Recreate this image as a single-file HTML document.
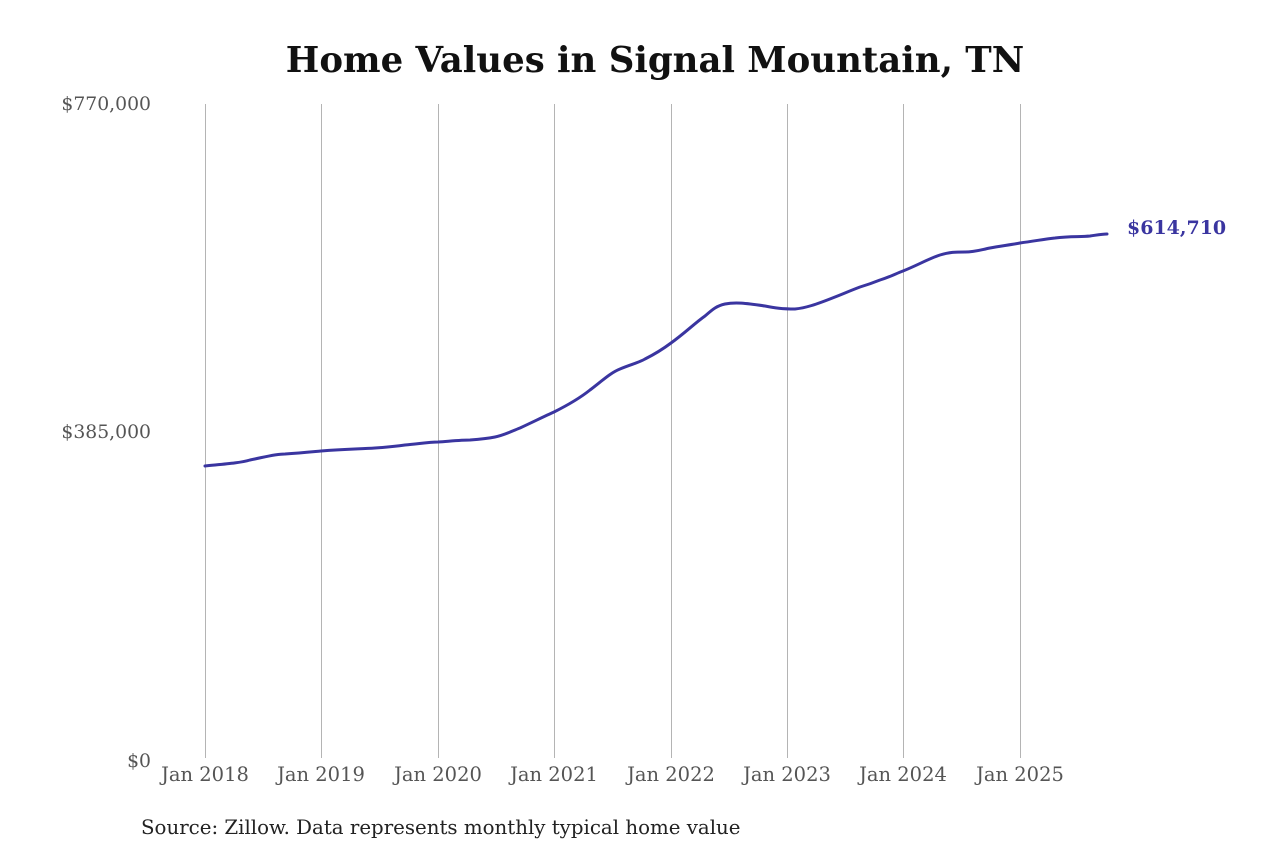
<!DOCTYPE html>
<html><head><meta charset="utf-8"><style>
html,body{margin:0;padding:0;background:#fff;}
</style></head><body>
<svg width="1280" height="853" xmlns="http://www.w3.org/2000/svg" font-family="'DejaVu Serif','Liberation Serif',serif">
<rect width="1280" height="853" fill="#fff"/>
<text x="655" y="72" text-anchor="middle" font-size="35.5" font-weight="bold" fill="#111">Home Values in Signal Mountain, TN</text>
<g stroke="#b4b4b4" stroke-width="1">
<line x1="205.5" y1="104" x2="205.5" y2="758"/>
<line x1="321.5" y1="104" x2="321.5" y2="758"/>
<line x1="438.5" y1="104" x2="438.5" y2="758"/>
<line x1="554.5" y1="104" x2="554.5" y2="758"/>
<line x1="671.5" y1="104" x2="671.5" y2="758"/>
<line x1="787.5" y1="104" x2="787.5" y2="758"/>
<line x1="903.5" y1="104" x2="903.5" y2="758"/>
<line x1="1020.5" y1="104" x2="1020.5" y2="758"/>
</g>
<g font-size="18.8" fill="#555" text-anchor="end">
<text x="151" y="110">$770,000</text>
<text x="151" y="438">$385,000</text>
<text x="151" y="767">$0</text>
</g>
<g font-size="19.5" fill="#555" text-anchor="middle">
<text x="205" y="781">Jan 2018</text>
<text x="321" y="781">Jan 2019</text>
<text x="438" y="781">Jan 2020</text>
<text x="554" y="781">Jan 2021</text>
<text x="671" y="781">Jan 2022</text>
<text x="787" y="781">Jan 2023</text>
<text x="903" y="781">Jan 2024</text>
<text x="1020" y="781">Jan 2025</text>
</g>
<path fill="none" stroke="#3a35a0" stroke-width="3" stroke-linejoin="round" stroke-linecap="round"
d="M205,466 C225,464 240,463 250,460 C265,457 275,454 285,454 C300,453 310,452 321,451 C345,449 360,449 375,448 C390,447 398,446 405,445 C418,444 428,442 438,442 C452,441 462,440 470,440 C483,439 490,438 495,437 C505,435 512,431 520,428 C535,421 545,416 554,412 C568,405 580,398 590,390 C602,381 610,373 620,369 C632,364 638,363 645,359 C655,354 663,349 671,343 C685,333 695,323 705,316 C712,310 716,306 725,304 C735,302 745,303 765,306 C775,308 782,309 795,309 C805,308 815,305 835,297 C845,293 852,290 860,287 C870,284 875,282 880,280 C890,277 895,274 903,271 C918,265 928,259 940,255 C950,252 955,252 965,252 C975,252 980,250 990,248 C1000,246 1010,245 1020,243 C1035,241 1045,239 1055,238 C1070,236 1080,237 1090,236 C1097,235 1102,234 1107,234"/>
<text x="1127" y="234" font-size="19" font-weight="bold" fill="#3a35a0">$614,710</text>
<text x="141" y="834" font-size="19.8" fill="#222">Source: Zillow. Data represents monthly typical home value</text>
</svg>
</body></html>
